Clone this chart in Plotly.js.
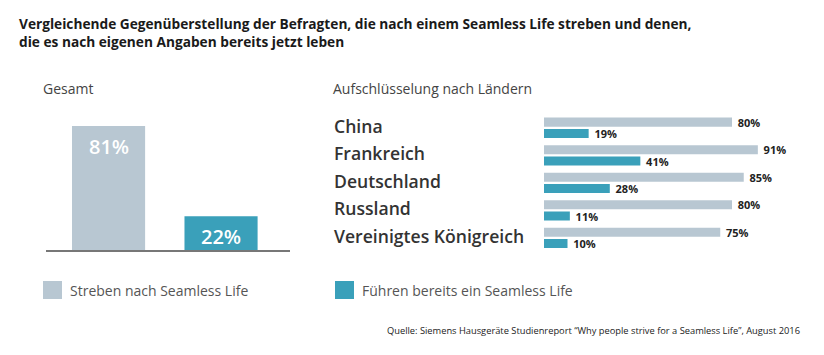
<!DOCTYPE html>
<html>
<head>
<meta charset="utf-8">
<script src="https://cdn.plot.ly/plotly-3.0.1.min.js"></script>
<style>html,body{margin:0;padding:0;background:#fff;}#chart{width:824px;height:355px;}</style>
</head>
<body>
<div id="chart"></div>
<script>
// ---- data ----
const titleLines = [
  "Vergleichende Gegenüberstellung der Befragten, die nach einem Seamless Life streben und denen,",
  "die es nach eigenen Angaben bereits jetzt leben"
];
const leftHeading = "Gesamt";
const rightHeading = "Aufschlüsselung nach Ländern";
const seriesNames = ["Streben nach Seamless Life", "Führen bereits ein Seamless Life"];
const totalValues = [81, 22];
const countries = ["China", "Frankreich", "Deutschland", "Russland", "Vereinigtes Königreich"];
const striveValues = [80, 91, 85, 80, 75];
const liveValues = [19, 41, 28, 11, 10];
const sourceText = "Quelle: Siemens Hausgeräte Studienreport \u201CWhy people strive for a Seamless Life\u201D, August 2016";

// ---- styling ----
const GREY = "#b8c7d2";
const TEAL = "#3aa0ba";
const FONT = "Open Sans, Noto Sans, sans-serif";
const W = 824, H = 355;
const px = x => x / W;
const py = y => 1 - y / H;

const valueFont = {family: FONT, size: 11, color: "#222", weight: 700};
const traces = [
  {
    type: "bar", x: seriesNames, y: totalValues, xaxis: "x", yaxis: "y",
    marker: {color: [GREY, TEAL]}, width: 0.65, showlegend: false, hoverinfo: "none"
  },
  {
    type: "bar", orientation: "h", y: countries, x: striveValues, xaxis: "x2", yaxis: "y2",
    marker: {color: GREY}, width: 0.33, offset: -0.37, name: seriesNames[0],
    texttemplate: "\u2005%{x}%", textposition: "outside", constraintext: "none", cliponaxis: false,
    textfont: valueFont, showlegend: false, hoverinfo: "none"
  },
  {
    type: "bar", orientation: "h", y: countries, x: liveValues, xaxis: "x2", yaxis: "y2",
    marker: {color: TEAL}, width: 0.33, offset: 0.045, name: seriesNames[1],
    texttemplate: "\u2005%{x}%", textposition: "outside", constraintext: "none", cliponaxis: false,
    textfont: valueFont, showlegend: false, hoverinfo: "none"
  }
];

const annotations = [];
annotations.push({
  text: titleLines.join("<br>"), xref: "paper", yref: "paper", x: px(17), y: py(33), xanchor: "left", yanchor: "middle",
  align: "left", showarrow: false, font: {family: FONT, size: 13.7, color: "#1a1a1a", weight: 700}
});
annotations.push({text: leftHeading, xref: "paper", yref: "paper", x: px(41), y: py(88),
  xanchor: "left", yanchor: "middle", showarrow: false, font: {family: FONT, size: 14, color: "#444"}});
annotations.push({text: rightHeading, xref: "paper", yref: "paper", x: px(331), y: py(88),
  xanchor: "left", yanchor: "middle", showarrow: false, font: {family: FONT, size: 14, color: "#444"}});
totalValues.forEach((v, i) => annotations.push({
  text: v + "%", xref: "x", yref: "y", x: seriesNames[i], y: v, yanchor: "top", yshift: -5,
  showarrow: false, font: {family: FONT, size: 20, color: "#fff", weight: 600}
}));
countries.forEach(c => annotations.push({
  text: c, xref: "paper", yref: "y2", x: px(332), y: c, xanchor: "left", yanchor: "middle", yshift: 2,
  showarrow: false, font: {family: FONT, size: 17.6, color: "#333", weight: 600}
}));
const legendX = [43, 335];
const shapes = [];
seriesNames.forEach((n, i) => {
  shapes.push({type: "rect", xref: "paper", yref: "paper", x0: px(legendX[i]), x1: px(legendX[i] + 19),
    y0: py(299), y1: py(281), fillcolor: i === 0 ? GREY : TEAL, line: {width: 0}});
  annotations.push({text: n, xref: "paper", yref: "paper", x: px(legendX[i] + 25), y: py(290),
    xanchor: "left", yanchor: "middle", showarrow: false, font: {family: FONT, size: 14, color: "#555"}});
});
annotations.push({text: sourceText, xref: "paper", yref: "paper", x: px(802), y: py(330),
  xanchor: "right", yanchor: "middle", showarrow: false, font: {family: FONT, size: 9.3, color: "#222"}});

const layout = {
  width: W, height: H, margin: {l: 0, r: 0, t: 0, b: 0},
  paper_bgcolor: "#fff", plot_bgcolor: "#fff", showlegend: false,
  font: {family: FONT},
  xaxis: {domain: [px(46), px(290)], type: "category", range: [-0.556, 1.613], showticklabels: false,
    ticks: "", showgrid: false, zeroline: false, showline: true, linecolor: "#777", linewidth: 1.5, fixedrange: true},
  yaxis: {domain: [py(250), py(97)], range: [0, 100], visible: false, fixedrange: true},
  xaxis2: {domain: [px(544), px(779)], range: [0, 100], visible: false, anchor: "y2", fixedrange: true},
  yaxis2: {domain: [py(251.55), py(114.05)], type: "category", range: [4.5, -0.5], visible: false, anchor: "x2", fixedrange: true},
  annotations: annotations, shapes: shapes
};

Plotly.newPlot("chart", traces, layout, {displayModeBar: false, staticPlot: true});
</script>
</body>
</html>
